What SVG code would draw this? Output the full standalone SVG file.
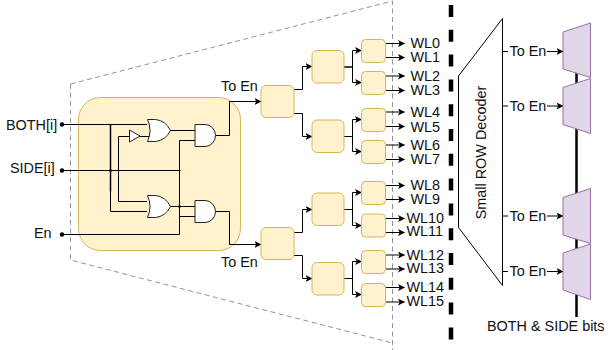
<svg xmlns="http://www.w3.org/2000/svg" width="608" height="350" viewBox="0 0 608 350">
<style>
text{font-family:"Liberation Sans",Arial,sans-serif;font-size:14.4px;fill:#111;dominant-baseline:central}
.b{fill:#fff2cc;stroke:#d6b656;stroke-width:1}
.g{fill:#fff;stroke:#222;stroke-width:1}
.w{fill:none;stroke:#000;stroke-width:1}
.a{fill:none;stroke:#000;stroke-width:1;marker-end:url(#ah)}
.t{fill:#e1d5e7;stroke:#9673a6;stroke-width:1}
.d{fill:none;stroke:#777;stroke-width:.8;stroke-dasharray:5 3.500}
</style>
<defs>
<marker id="ah" markerUnits="userSpaceOnUse" markerWidth="8" markerHeight="8" refX="6.5" refY="3.5" orient="auto"><path d="M0 0L7 3.5L0 7L1.700 3.500Z" fill="#000"/></marker>
<path id="org" d="M0 0H8Q18 1 23 11Q18 21 8 22H0Q5 11 0 0Z"/>
<path id="andg" d="M0 0H10A10.500 11 0 0 1 10 22H0Z"/>
</defs>
<g id="zoom-outline"><path class="d" d="M70.500 84L392.500 1V350M70.500 84V260L392.500 343"/></g>
<g id="panel"><rect class="b" x="78.500" y="97.500" width="162" height="153" rx="22"/></g>
<g id="connectors">
<path class="w" d="M62 124.500H147M110.500 191V211.500H147M62 170.500H180.500M118.500 136.500H130M118.500 136.500V201.500H147M140 136.500H149M170 130.500H195M179.500 140.500H195M179.500 140.500V234.500H62M170 206.500H195M179.500 216.500H195"/>
<path d="M110.500 124.500V191.500" fill="none" stroke="#000" stroke-width="1.500"/>
<path class="a" d="M215 135.500H229.500V101.500H261"/>
<path class="a" d="M215 211.500H229.500V244.500H261"/>
<path class="a" d="M294 89.500H302.500V66.500H312"/><path class="a" d="M294 113.500H302.500V136.500H312"/>
<path class="a" d="M294 232.500H302.500V209.500H312"/><path class="a" d="M294 255.500H302.500V278.500H312"/>
<path class="a" d="M344 67H352.500V50.500H361.500"/><path class="a" d="M344 67H352.500V82.500H361.500"/>
<path class="a" d="M344 136.500H352.500V119.500H361.500"/><path class="a" d="M344 136.500H352.500V151.500H361.500"/>
<path class="a" d="M344 209.500H352.500V192.500H361.500"/><path class="a" d="M344 209.500H352.500V225.500H361.500"/>
<path class="a" d="M344 278.500H352.500V261.500H361.500"/><path class="a" d="M344 278.500H352.500V294.500H361.500"/>
<path class="a" d="M386 43.500H404.500"/><path class="a" d="M386 57.500H404.500"/><path class="a" d="M386 76H404.500"/><path class="a" d="M386 90.500H404.500"/>
<path class="a" d="M386 112H404.500"/><path class="a" d="M386 126.500H404.500"/><path class="a" d="M386 145H404.500"/><path class="a" d="M386 159.500H404.500"/>
<path class="a" d="M386 185.500H404.500"/><path class="a" d="M386 199.500H404.500"/><path class="a" d="M386 218.500H404.500"/><path class="a" d="M386 232.500H404.500"/>
<path class="a" d="M386 255H404.500"/><path class="a" d="M386 269H404.500"/><path class="a" d="M386 287.500H404.500"/><path class="a" d="M386 302H404.500"/>
<path d="M502.500 51.500H508M502.500 106H508M502.500 216H508M502.500 271.500H508" class="w"/>
<path class="a" d="M547 51.500H563"/><path class="a" d="M547 106H563"/><path class="a" d="M547 216H563"/><path class="a" d="M547 271.500H563"/>
<circle cx="62" cy="124.500" r="2.200"/><circle cx="62" cy="170.500" r="2.200"/><circle cx="62" cy="234.500" r="2.200"/>
<circle cx="110.500" cy="170.500" r="1.300"/><circle cx="179.500" cy="206.500" r="1.300"/>
</g>
<g id="bus-divider"><path d="M451 5V345" fill="none" stroke="#000" stroke-width="4.500" stroke-dasharray="12 12.800"/></g>
<g id="bus"><path d="M576.500 30V317" fill="none" stroke="#000" stroke-width="2.500"/></g>
<g id="gate-or1"><use href="#org" class="g" x="147.500" y="119.500"/></g>
<g id="gate-or2"><use href="#org" class="g" x="147.500" y="195.500"/></g>
<g id="gate-and1"><use href="#andg" class="g" x="195" y="124.500"/></g>
<g id="gate-and2"><use href="#andg" class="g" x="195" y="200.500"/></g>
<g id="gate-not"><path class="g" d="M129.500 130V142L140 136Z"/></g>
<g id="dec-root-a"><rect class="b" x="261" y="85.500" width="33" height="32" rx="5"/></g>
<g id="dec-root-b"><rect class="b" x="261" y="227.500" width="33" height="32" rx="5"/></g>
<g id="dec-l2-a"><rect class="b" x="312" y="50.500" width="32" height="32.500" rx="5"/></g>
<g id="dec-l2-b"><rect class="b" x="312" y="120" width="32" height="32.500" rx="5"/></g>
<g id="dec-l2-c"><rect class="b" x="312" y="193" width="32" height="32.500" rx="5"/></g>
<g id="dec-l2-d"><rect class="b" x="312" y="262.500" width="32" height="32.500" rx="5"/></g>
<g id="dec-l3-a"><rect class="b" x="361.500" y="39.500" width="24" height="23" rx="4"/></g>
<g id="dec-l3-b"><rect class="b" x="361.500" y="71.500" width="24" height="23" rx="4"/></g>
<g id="dec-l3-c"><rect class="b" x="361.500" y="108.500" width="24" height="23" rx="4"/></g>
<g id="dec-l3-d"><rect class="b" x="361.500" y="140.500" width="24" height="23" rx="4"/></g>
<g id="dec-l3-e"><rect class="b" x="361.500" y="181.500" width="24" height="23" rx="4"/></g>
<g id="dec-l3-f"><rect class="b" x="361.500" y="214" width="24" height="23" rx="4"/></g>
<g id="dec-l3-g"><rect class="b" x="361.500" y="250.500" width="24" height="23" rx="4"/></g>
<g id="dec-l3-h"><rect class="b" x="361.500" y="283.500" width="24" height="23" rx="4"/></g>
<g id="small-row-decoder"><path fill="#fff" stroke="#000" d="M458.500 76L502.500 18.500V285.500L458.500 227.500Z"/>
<text transform="translate(481 152.500) rotate(-90)" text-anchor="middle">Small ROW Decoder</text></g>
<g id="mux-1"><path class="t" d="M563 32L590.500 23V77.500L563 69Z"/></g>
<g id="mux-2"><path class="t" d="M563 87.500L590.500 78.500V133.500L563 124.500Z"/></g>
<g id="mux-3"><path class="t" d="M563 197.500L590.500 188.500V243.500L563 235Z"/></g>
<g id="mux-4"><path class="t" d="M563 253L590.500 244V299.500L563 290Z"/></g>
<g id="labels">
<text x="6" y="124.500">BOTH[i]</text><text x="10" y="167.500">SIDE[i]</text><text x="34" y="233">En</text>
<text x="221" y="86">To En</text><text x="221" y="262">To En</text>
<text x="410.500" y="43">WL0</text><text x="410.500" y="57">WL1</text><text x="410.500" y="76">WL2</text><text x="410.500" y="90">WL3</text>
<text x="410.500" y="112">WL4</text><text x="410.500" y="127">WL5</text><text x="410.500" y="145">WL6</text><text x="410.500" y="159">WL7</text>
<text x="410.500" y="185">WL8</text><text x="410.500" y="199">WL9</text><text x="406.500" y="218">WL10</text><text x="406.500" y="231">WL11</text>
<text x="406.500" y="255">WL12</text><text x="406.500" y="268">WL13</text><text x="406.500" y="287">WL14</text><text x="406.500" y="301">WL15</text>
<text x="509.500" y="51">To En</text><text x="509.500" y="105.500">To En</text><text x="509.500" y="215.500">To En</text><text x="509.500" y="271">To En</text>
<text x="487" y="326">BOTH &amp; SIDE bits</text>
</g>
</svg>
